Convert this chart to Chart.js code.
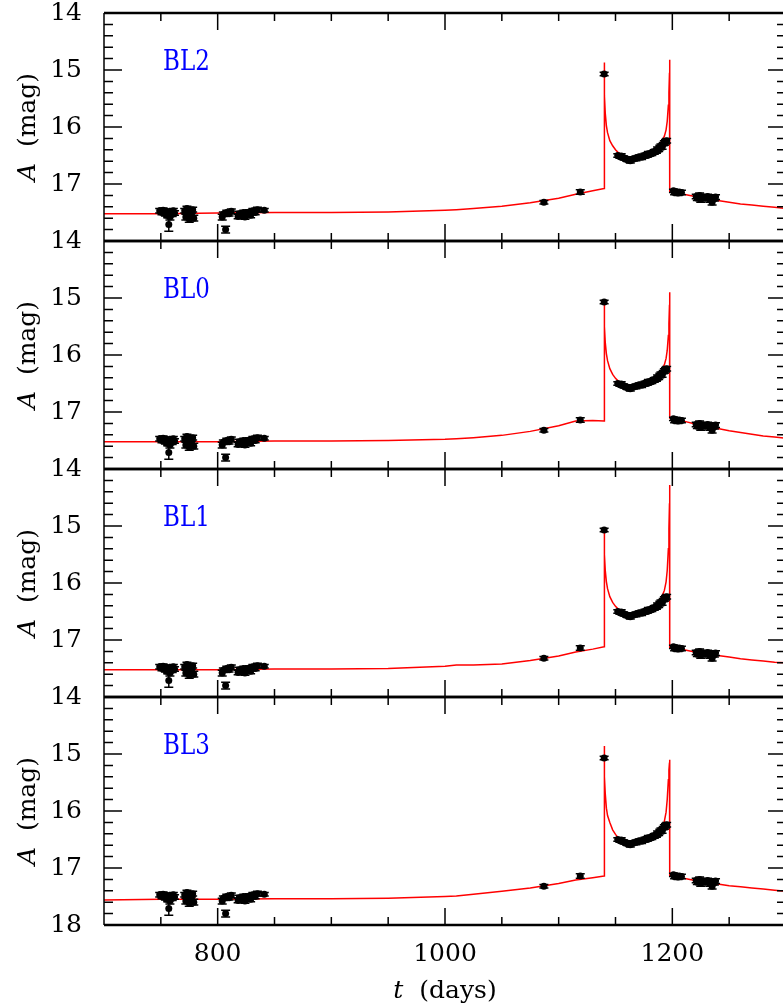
<!DOCTYPE html>
<html>
<head>
<meta charset="utf-8">
<script src="https://cdn.jsdelivr.net/npm/chart.js@4.4.0/dist/chart.umd.min.js"></script>
<style>
html, body { margin: 0; padding: 0; overflow: hidden; background: #fff; }
canvas { display: block; }
</style>
</head>
<body>
<canvas id="lcChart" width="790" height="1007"></canvas>
<script>
// photometry: epoch (days), A magnitude, 1-sigma error
var obsT = [
    749, 751, 752, 754, 755, 756, 757, 758, 759, 760, 761, 762,
    771, 772, 773, 774, 775, 776, 777, 778, 779,
    804, 805, 807, 808, 810, 812,
    818, 819, 821, 823, 824, 826, 828, 829, 831, 833, 835, 841,
    1087, 1119, 1140,
    1152, 1154, 1155, 1157, 1158, 1160, 1161, 1163, 1164, 1166, 1168, 1170, 1171, 1173, 1175, 1176,
    1178, 1179, 1181, 1182, 1184, 1185, 1186, 1187, 1188, 1189, 1190, 1191, 1192, 1193, 1194, 1195,
    1201, 1202, 1203, 1205, 1206, 1208,
    1221, 1222, 1224, 1225, 1227, 1229, 1231, 1233, 1234, 1235, 1237, 1238
];
var obsA = [
    17.47, 17.50, 17.46, 17.52, 17.48, 17.55, 17.71, 17.58, 17.50, 17.53, 17.47, 17.51,
    17.47, 17.58, 17.43, 17.52, 17.62, 17.48, 17.55, 17.45, 17.60,
    17.58, 17.53, 17.80, 17.50, 17.52, 17.48,
    17.57, 17.52, 17.55, 17.50, 17.58, 17.53, 17.49, 17.55, 17.47, 17.50, 17.45, 17.46,
    17.32, 17.14, 15.07,
    16.50, 16.52, 16.51, 16.54, 16.55, 16.56, 16.58, 16.59, 16.57, 16.56, 16.55, 16.53, 16.52, 16.53, 16.51, 16.49,
    16.50, 16.47, 16.46, 16.47, 16.44, 16.42, 16.43, 16.39, 16.40, 16.36, 16.33, 16.35, 16.30, 16.28, 16.26, 16.24,
    17.12, 17.15, 17.13, 17.16, 17.14, 17.15,
    17.22, 17.25, 17.20, 17.27, 17.23, 17.25, 17.22, 17.27, 17.24, 17.32, 17.26, 17.23
];
var obsErr = [
    0.04, 0.04, 0.04, 0.04, 0.04, 0.04, 0.12, 0.05, 0.04, 0.04, 0.04, 0.04,
    0.04, 0.05, 0.04, 0.04, 0.05, 0.04, 0.04, 0.04, 0.05,
    0.05, 0.04, 0.06, 0.04, 0.04, 0.04,
    0.04, 0.04, 0.04, 0.04, 0.04, 0.04, 0.04, 0.04, 0.04, 0.04, 0.04, 0.03,
    0.03, 0.04, 0.03,
    0.03, 0.03, 0.04, 0.03, 0.03, 0.04, 0.03, 0.04, 0.03, 0.03, 0.04, 0.03, 0.03, 0.04, 0.03, 0.03,
    0.03, 0.04, 0.03, 0.03, 0.04, 0.03, 0.03, 0.04, 0.03, 0.04, 0.03, 0.04, 0.03, 0.04, 0.04, 0.04,
    0.03, 0.04, 0.03, 0.04, 0.03, 0.04,
    0.04, 0.04, 0.04, 0.05, 0.04, 0.04, 0.04, 0.05, 0.04, 0.05, 0.04, 0.04
];

// binary-lens model curves on a common time grid (repeated epochs = caustic crossings)
var modelT = [
    700, 750, 800, 850, 900, 950, 1000,
    1010, 1025, 1050, 1075, 1100, 1115, 1130, 1140,
    1140, 1140.5, 1141, 1142, 1143, 1145, 1147.5, 1150, 1152,
    1155, 1158, 1162, 1166, 1170, 1174, 1178, 1182, 1186, 1189, 1191,
    1193, 1194.5, 1195.5, 1196.5, 1197, 1197.5, 1197.7,
    1197.7, 1200, 1210, 1220, 1230, 1240, 1250, 1260, 1270, 1280, 1290, 1300
];
var modelBL2 = [
    17.52, 17.52, 17.51, 17.50, 17.50, 17.49, 17.46,
    17.45, 17.43, 17.39, 17.33, 17.25, 17.18, 17.12, 17.08,
    14.87, 15.45, 15.76, 15.98, 16.10, 16.24, 16.33, 16.40, 16.44,
    16.48, 16.51, 16.53, 16.53, 16.52, 16.50, 16.47, 16.42, 16.36, 16.30, 16.24,
    16.16, 16.05, 15.90, 15.62, 15.40, 15.05, 14.82,
    17.14, 17.15, 17.18, 17.22, 17.26, 17.29, 17.32, 17.35, 17.37, 17.39, 17.41, 17.43
];
var modelBL0 = [
    17.52, 17.52, 17.52, 17.51, 17.51, 17.50, 17.48,
    17.47, 17.45, 17.41, 17.34, 17.24, 17.16, 17.15, 17.16,
    15.02, 15.50, 15.78, 15.98, 16.10, 16.24, 16.34, 16.41, 16.45,
    16.49, 16.52, 16.54, 16.54, 16.53, 16.51, 16.48, 16.43, 16.37, 16.31, 16.25,
    16.17, 16.06, 15.92, 15.66, 15.45, 15.12, 14.90,
    17.11, 17.12, 17.16, 17.21, 17.25, 17.29, 17.33, 17.36, 17.39, 17.42, 17.44, 17.46
];
var modelBL1 = [
    17.52, 17.52, 17.52, 17.51, 17.51, 17.50, 17.46,
    17.44, 17.44, 17.42, 17.36, 17.28, 17.21, 17.16, 17.12,
    15.03, 15.50, 15.78, 15.98, 16.10, 16.24, 16.34, 16.41, 16.45,
    16.49, 16.52, 16.54, 16.54, 16.53, 16.51, 16.48, 16.43, 16.37, 16.30, 16.23,
    16.13, 15.98, 15.78, 15.40, 15.05, 14.60, 14.28,
    17.13, 17.14, 17.17, 17.21, 17.24, 17.27, 17.30, 17.33, 17.35, 17.37, 17.39, 17.40
];
var modelBL3 = [
    17.56, 17.55, 17.55, 17.54, 17.54, 17.53, 17.50,
    17.49, 17.46, 17.41, 17.35, 17.27, 17.21, 17.17, 17.14,
    14.86, 15.40, 15.70, 15.95, 16.08, 16.20, 16.33, 16.41, 16.46,
    16.50, 16.53, 16.55, 16.55, 16.54, 16.52, 16.49, 16.44, 16.38, 16.32, 16.26,
    16.18, 16.02, 15.80, 15.45, 15.28, 15.15, 15.10,
    17.14, 17.15, 17.18, 17.22, 17.25, 17.28, 17.31, 17.33, 17.35, 17.37, 17.39, 17.41
];

var panelNames = ['BL2', 'BL0', 'BL1', 'BL3'];
var panelCurves = [modelBL2, modelBL0, modelBL1, modelBL3];
var xTickLabels = [800, 1000, 1200];
var yTickLabels = [14, 15, 16, 17, 18];

var serif = "'DejaVu Serif', serif";
var tickFont = { family: serif, size: 25 };

function plainLabel(v) { return String(v); }

var datasets = [];
panelNames.forEach(function (name, i) {
    datasets.push({
        label: name + ' data',
        xAxisID: 'x',
        yAxisID: 'y' + i,
        data: obsT.map(function (t, j) { return { x: t, y: obsA[j] }; }),
        errors: obsErr,
        showLine: false,
        pointRadius: 3.5,
        pointBackgroundColor: '#000',
        pointBorderColor: '#000',
        pointBorderWidth: 0
    });
    datasets.push({
        label: name,
        xAxisID: 'x',
        yAxisID: 'y' + i,
        data: modelT.map(function (t, j) { return { x: t, y: panelCurves[i][j] }; }),
        showLine: true,
        pointRadius: 0,
        borderColor: '#ff0000',
        borderWidth: 1.5,
        tension: 0
    });
});

var scales = {
    x: {
        type: 'linear',
        position: 'bottom',
        min: 700,
        max: 1300,
        grid: { display: false, drawTicks: false },
        border: { display: false },
        ticks: { font: tickFont, color: '#000', padding: 14, autoSkip: false, maxRotation: 0, callback: plainLabel },
        afterBuildTicks: function (s) {
            s.ticks = xTickLabels.map(function (v) { return { value: v }; });
        },
        afterFit: function (s) {
            s.height = 82;
            s.paddingLeft = 0;
            s.paddingRight = 0;
        }
    }
};
panelNames.forEach(function (name, i) {
    var last = i === panelNames.length - 1;
    scales['y' + i] = {
        type: 'linear',
        axis: 'y',
        position: 'left',
        stack: 'panels',
        stackWeight: 1,
        weight: panelNames.length - i,
        reverse: true,
        min: 14,
        max: 18,
        grid: { display: false, drawTicks: false },
        border: { display: false },
        ticks: { font: tickFont, color: '#000', padding: 22, autoSkip: false, callback: plainLabel },
        afterBuildTicks: function (s) {
            s.ticks = yTickLabels.filter(function (v) { return last || v < 18; })
                .map(function (v) { return { value: v }; });
        },
        afterFit: function (s) {
            s.width = 104;
            s.paddingTop = 0;
            s.paddingBottom = 0;
        }
    };
});

function drawTitle(ctx, parts, cx, cy, vertical) {
    ctx.save();
    ctx.translate(cx, cy);
    if (vertical) ctx.rotate(-Math.PI / 2);
    var total = 0;
    parts.forEach(function (p) { ctx.font = p[1]; total += ctx.measureText(p[0]).width; });
    var x = -total / 2;
    ctx.textAlign = 'left';
    ctx.textBaseline = 'middle';
    ctx.fillStyle = '#000';
    parts.forEach(function (p) {
        ctx.font = p[1];
        ctx.fillText(p[0], x, 0);
        x += ctx.measureText(p[0]).width;
    });
    ctx.restore();
}

var panelPlugin = {
    id: 'panelPlugin',
    // error bars go under the points
    beforeDatasetDraw: function (chart, args) {
        var ds = chart.data.datasets[args.index];
        if (!ds.errors) return;
        var ys = chart.scales[ds.yAxisID];
        var ctx = chart.ctx;
        ctx.save();
        ctx.strokeStyle = '#000';
        ctx.lineWidth = 1.5;
        args.meta.data.forEach(function (pt, j) {
            var y1 = ys.getPixelForValue(ds.data[j].y - ds.errors[j]);
            var y2 = ys.getPixelForValue(ds.data[j].y + ds.errors[j]);
            ctx.beginPath();
            ctx.moveTo(pt.x, y1); ctx.lineTo(pt.x, y2);
            ctx.moveTo(pt.x - 4.5, y1); ctx.lineTo(pt.x + 4.5, y1);
            ctx.moveTo(pt.x - 4.5, y2); ctx.lineTo(pt.x + 4.5, y2);
            ctx.stroke();
        });
        ctx.restore();
    },
    // boxed panels with inward ticks on all four sides
    afterDatasetsDraw: function (chart) {
        var ctx = chart.ctx;
        var xs = chart.scales.x;
        var left = chart.chartArea.left, right = chart.chartArea.right;
        ctx.save();
        ctx.strokeStyle = '#000';
        panelNames.forEach(function (name, i) {
            var ys = chart.scales['y' + i];
            var top = ys.top, bottom = ys.bottom;
            ctx.lineWidth = 1.5;
            ctx.beginPath();
            ctx.moveTo(left, top); ctx.lineTo(left, bottom);
            ctx.moveTo(right, top); ctx.lineTo(right, bottom);
            for (var t = xs.min; t <= xs.max; t += 50) {
                var len = t % 200 === 0 ? 17 : 8;
                var px = xs.getPixelForValue(t);
                ctx.moveTo(px, top); ctx.lineTo(px, top + len);
                ctx.moveTo(px, bottom); ctx.lineTo(px, bottom - len);
            }
            for (var k = 0; k <= 20; k++) {
                var ylen = k % 5 === 0 ? 18 : 9;
                var py = ys.getPixelForValue(ys.min + k * 0.2);
                ctx.moveTo(left, py); ctx.lineTo(left + ylen, py);
                ctx.moveTo(right, py); ctx.lineTo(right - ylen, py);
            }
            ctx.stroke();
            ctx.lineWidth = 2.5;
            ctx.beginPath();
            ctx.moveTo(left, top); ctx.lineTo(right, top);
            ctx.moveTo(left, bottom); ctx.lineTo(right, bottom);
            ctx.stroke();
        });
        ctx.restore();
    },
    afterDraw: function (chart) {
        var ctx = chart.ctx;
        var xs = chart.scales.x;
        panelNames.forEach(function (name, i) {
            var ys = chart.scales['y' + i];
            drawTitle(ctx, [['A', 'italic 25px ' + serif], ['  (mag)', '25px ' + serif]],
                28.5, (ys.top + ys.bottom) / 2, true);
            // model name in the upper left of each panel
            ctx.save();
            ctx.translate(xs.getPixelForValue(752), ys.getPixelForValue(15.0));
            ctx.scale(1, 1.2);
            ctx.font = '23px ' + serif;
            ctx.fillStyle = '#0000ff';
            ctx.textAlign = 'left';
            ctx.textBaseline = 'alphabetic';
            ctx.fillText(name, 0, 0);
            ctx.restore();
        });
        drawTitle(ctx, [['t', 'italic 25px ' + serif], ['  (days)', '25px ' + serif]],
            (chart.chartArea.left + chart.chartArea.right) / 2, 991, false);
    }
};

new Chart(document.getElementById('lcChart').getContext('2d'), {
    type: 'scatter',
    data: { datasets: datasets },
    options: {
        responsive: false,
        animation: false,
        layout: { padding: { top: 13, right: 1, left: 0, bottom: 0 } },
        plugins: { legend: { display: false }, tooltip: { enabled: false } },
        scales: scales
    },
    plugins: [panelPlugin]
});
</script>
</body>
</html>
